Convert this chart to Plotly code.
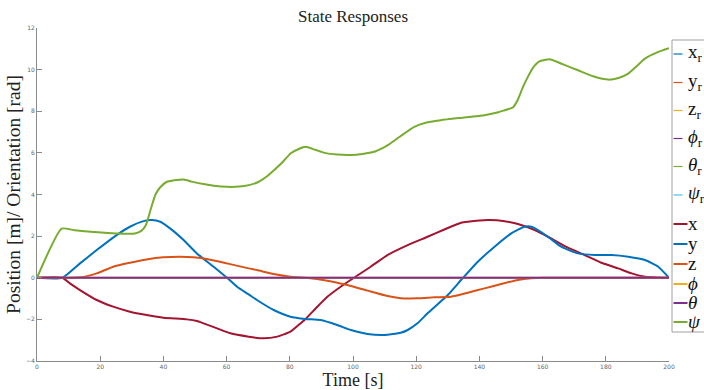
import plotly.graph_objects as go

# ---------------- data ----------------
x_t = [0, 8, 10.4, 13.6, 18.9, 24.1, 29.4, 34.7, 40, 47.4, 50.6, 52.7, 57, 61.2, 67, 71.7, 76,
       80.2, 83.4, 85, 88.7, 91.9, 96.1, 100.3, 105.6, 110.9, 117.3, 123.6, 128.9, 134.2, 136.3,
       142.7, 148, 152.2, 157.5, 161.7, 167, 173.3, 178.6, 183.9, 188.2, 192.4, 200]
x_v = [0, 0, -0.27, -0.59, -1.07, -1.39, -1.63, -1.79, -1.92, -2.0, -2.08, -2.19, -2.43, -2.67,
       -2.83, -2.91, -2.83, -2.59, -2.19, -1.98, -1.39, -0.91, -0.43, 0, 0.53, 1.09, 1.57, 1.97,
       2.32, 2.64, 2.69, 2.77, 2.72, 2.58, 2.29, 1.97, 1.52, 1.09, 0.72, 0.45, 0.21, 0.05, 0]

y_t = [0, 8, 13.6, 18.9, 25.2, 29.4, 33.7, 36.3, 39, 42.1, 46.4, 50.6, 55.9, 60.1, 63.3, 67,
       69.6, 74.9, 80.2, 85, 89.7, 95, 99.3, 104.6, 109.8, 115.1, 117.3, 120.4, 123.6, 130,
       134.2, 139.5, 144.8, 150.1, 154.3, 156.5, 161.7, 165.9, 171.2, 176.5, 181.8, 187.1,
       192.4, 196.6, 200]
y_v = [0, 0, 0.69, 1.33, 2.05, 2.45, 2.72, 2.77, 2.69, 2.37, 1.81, 1.17, 0.53, 0, -0.43, -0.8,
       -1.07, -1.55, -1.87, -1.98, -2.03, -2.27, -2.51, -2.7, -2.75, -2.64, -2.51, -2.19, -1.71,
       -0.83, -0.11, 0.77, 1.49, 2.13, 2.45, 2.45, 1.97, 1.49, 1.17, 1.09, 1.09, 1.01, 0.85,
       0.53, 0]

z_t = [0, 8, 14.6, 18.9, 24.1, 29.4, 34.7, 40, 45.3, 49.5, 53.8, 60.1, 67, 69.6, 74.9, 80.2,
       85, 91.9, 98.2, 104.6, 110.9, 115.1, 120.4, 125.7, 131, 136.3, 141.6, 146.9, 152.2,
       156.4, 160, 200]
z_v = [0, 0, 0.04, 0.21, 0.53, 0.72, 0.88, 0.98, 1.01, 0.98, 0.9, 0.69, 0.45, 0.37, 0.18, 0.05,
       0, -0.14, -0.35, -0.62, -0.88, -0.98, -0.99, -0.94, -0.91, -0.72, -0.51, -0.3, -0.11,
       -0.03, 0, 0]

phi_t = [0, 200]
phi_v = [0, 0]
theta_t = [0, 200]
theta_v = [0, 0]

psi_t = [0, 7.8, 12, 18, 25, 31, 33, 34.5, 36, 37.5, 39, 41, 43.5, 46.4, 49, 52.7, 56, 60, 64,
         67, 70, 73, 75, 78, 80.2, 83, 85, 88, 91, 95, 99.3, 103, 106.7, 109, 111, 115, 119.4,
         123, 127.8, 134, 141.6, 146, 148, 150.6, 152, 153.8, 155.5, 157, 159, 162.2, 166.5,
         171.2, 176, 180.8, 184, 187.1, 190, 192.4, 196.6, 200]
psi_v = [0, 2.36, 2.28, 2.2, 2.13, 2.13, 2.25, 2.55, 3.3, 4.0, 4.35, 4.6, 4.68, 4.72, 4.62, 4.5,
         4.42, 4.37, 4.38, 4.45, 4.6, 4.9, 5.17, 5.6, 5.97, 6.2, 6.29, 6.15, 6.0, 5.92, 5.9, 5.95,
         6.05, 6.2, 6.37, 6.8, 7.25, 7.45, 7.57, 7.68, 7.81, 7.95, 8.05, 8.18, 8.5, 9.17, 9.7,
         10.1, 10.4, 10.5, 10.25, 9.97, 9.68, 9.52, 9.6, 9.81, 10.2, 10.53, 10.85, 11.03]

x_ticks = [0, 20, 40, 60, 80, 100, 120, 140, 160, 180, 200]
y_ticks = [-4, -2, 0, 2, 4, 6, 8, 10, 12]

series_names = ["x", "y", "z", "ϕ", "θ", "ψ"]
ref_names = ["x<sub>r</sub>", "y<sub>r</sub>", "z<sub>r</sub>",
             "<i>ϕ</i><sub>r</sub>", "<i>θ</i><sub>r</sub>", "<i>ψ</i><sub>r</sub>"]
act_names = ["x", "y", "z", "<i>ϕ</i>", "<i>θ</i>", "<i>ψ</i>"]

# ---------------- styles ----------------
C_BLUE, C_ORANGE, C_YELLOW = "#0072BD", "#D95319", "#EDB120"
C_PURPLE, C_GREEN, C_CYAN, C_RED = "#7E2F8E", "#77AC30", "#4DBEEE", "#A2142F"
ref_colors = [C_BLUE, C_ORANGE, C_YELLOW, C_PURPLE, C_GREEN, C_CYAN]
act_colors = [C_RED, C_BLUE, C_ORANGE, C_YELLOW, C_PURPLE, C_GREEN]

SERIF = "Liberation Serif"
AXC = "#8a8a8a"

fig = go.Figure()
data = [(x_t, x_v), (y_t, y_v), (z_t, z_v), (phi_t, phi_v), (theta_t, theta_v), (psi_t, psi_v)]
for (tt, vv), name, col in zip(data, series_names, act_colors):
    fig.add_trace(go.Scatter(x=tt, y=vv, mode="lines", name=name,
                             line=dict(color=col, width=2, shape="spline", smoothing=0.5),
                             showlegend=False, hoverinfo="skip"))

# plot area geometry (px)
W, H = 704, 390
L, R, T, B = 37, 35, 28, 29
pw, ph = W - L - R, H - T - B


def px2paper_x(px):
    return (px - L) / pw


def py2paper_y(py):
    return (H - B - py) / ph


# ---------------- legend (drawn, clipped by the right edge like the reference) ----------------
shapes = [dict(type="rect", xref="paper", yref="paper",
               x0=px2paper_x(672), x1=px2paper_x(740), y0=py2paper_y(332), y1=py2paper_y(40),
               line=dict(color="#a0a0a0", width=1), fillcolor="white", layer="above")]
annos = []
ys = [54, 82.5, 110.5, 138.5, 166.5, 195, 224, 244, 264, 284, 303, 322]
labels = ref_names + act_names
cols = ref_colors + act_colors
dashes = ["dash"] * 6 + ["solid"] * 6
for yy, lab, col, dsh in zip(ys, labels, cols, dashes):
    shapes.append(dict(type="line", xref="paper", yref="paper",
                       x0=px2paper_x(673.5), x1=px2paper_x(687.5),
                       y0=py2paper_y(yy), y1=py2paper_y(yy),
                       line=dict(color=col, width=1.2 if dsh == "dash" else 2, dash=dsh),
                       layer="above"))
    annos.append(dict(xref="paper", yref="paper", x=px2paper_x(686), y=py2paper_y(yy - 1),
                      xanchor="left", yanchor="middle", showarrow=False, text=lab,
                      font=dict(family=SERIF, size=19, color="#111")))

fig.update_layout(
    width=W, height=H,
    margin=dict(l=L, r=R, t=T, b=B, autoexpand=False),
    paper_bgcolor="white", plot_bgcolor="white",
    title=dict(text="State Responses", x=(L + pw / 2) / W, xanchor="center",
               y=1 - 16 / H, yanchor="middle", yref="container",
               font=dict(family=SERIF, size=17, color="#222")),
    xaxis=dict(range=[0, 200], tickvals=x_ticks, ticks="inside", ticklen=5, tickwidth=1,
               tickcolor=AXC, showline=True, linecolor=AXC, linewidth=1, showgrid=False,
               zeroline=False, tickfont=dict(family="DejaVu Sans", size=6, color="#666"),
               title=dict(text="Time [s]", standoff=2,
                          font=dict(family=SERIF, size=18, color="#222"))),
    yaxis=dict(range=[-4, 12], tickvals=y_ticks, ticks="inside", ticklen=5, tickwidth=1,
               tickcolor=AXC, showline=True, linecolor=AXC, linewidth=1, showgrid=False,
               zeroline=False, tickfont=dict(family="DejaVu Sans", size=6, color="#666"),
               title=dict(text="Position [m]/ Orientation [rad]", standoff=0,
                          font=dict(family=SERIF, size=19.5, color="#222"))),
    shapes=shapes, annotations=annos,
    showlegend=False,
)

fig.write_html("out.html",
               config={"displayModeBar": False},
               post_script="document.body.style.margin='0';"
                           "document.body.style.overflow='hidden';"
                           "document.documentElement.style.overflow='hidden';")
